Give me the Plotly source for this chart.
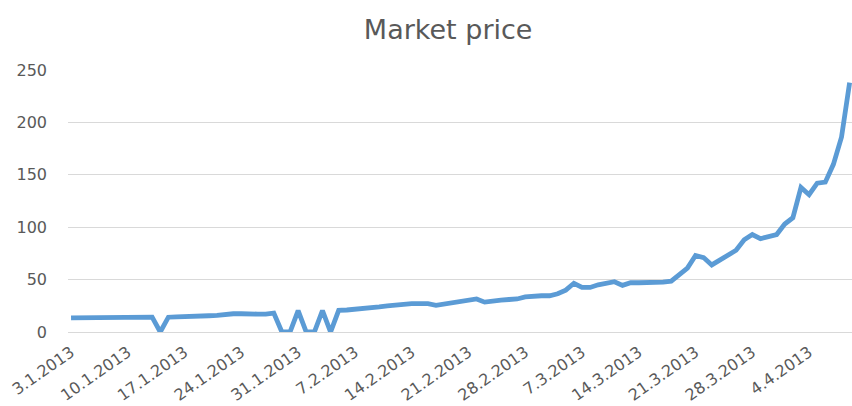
import pandas as pd
import plotly.graph_objects as go

# Daily market price, 3 Jan 2013 - 9 Apr 2013
start_date = "2013-01-03"
prices = [
    13.4, 13.4, 13.4, 13.4, 13.5, 13.8, 13.8, 14.1, 14.2, 14.1, 14.2,
    0,
    14.1, 14.5, 15.0, 15.5, 15.6, 15.5, 15.8, 16.9, 17.4, 17.4, 17.7, 17.1, 17.1, 18.0,
    0, 0, 20.4, 0, 0, 20.5, 0, 20.6,
    21.0, 21.5, 22.5, 23.5, 24.0, 25.0, 26.0, 26.5, 27.0, 27.0, 27.0, 25.5, 26.5, 28.5,
    29.5, 30.0, 31.5, 28.5, 30.0, 30.5,
    31.0, 31.5, 33.5, 34.6, 34.6, 34.6, 36.5, 40.0, 46.5, 42.5, 42.5, 45.0, 46.5, 48.0,
    44.5, 47.0, 47.0, 47.0, 47.0, 47.5, 48.5,
    55, 61, 73, 71, 64, 69, 74, 78, 88, 93, 89, 91, 93, 103, 109, 138, 131, 142, 143,
    160, 186, 238,
]
dates = pd.date_range(start_date, periods=len(prices), freq="D")

# Weekly date ticks
tick_dates = pd.date_range(start_date, periods=14, freq="7D")
tick_labels = [
    "3.1.2013", "10.1.2013", "17.1.2013", "24.1.2013", "31.1.2013", "7.2.2013",
    "14.2.2013", "21.2.2013", "28.2.2013", "7.3.2013", "14.3.2013", "21.3.2013",
    "28.3.2013", "4.4.2013",
]
y_ticks = [0, 50, 100, 150, 200, 250]

text_grey = "#595959"
grid_grey = "#d9d9d9"

fig = go.Figure(
    go.Scatter(
        x=dates,
        y=prices,
        mode="lines",
        line=dict(color="#5b9bd5", width=4.8),
        hoverinfo="x+y",
    )
)

x_start = dates[0] - pd.Timedelta(hours=9)
x_end = dates[0] + pd.Timedelta(hours=int(96.3 * 24))

fig.update_layout(
    width=852,
    height=406,
    margin=dict(l=68, r=0, t=70, b=74),
    paper_bgcolor="white",
    plot_bgcolor="white",
    showlegend=False,
    title=dict(
        text="Market price",
        font=dict(family="DejaVu Sans", size=27, color=text_grey),
        xref="container",
        yref="container",
        x=0.526,
        y=1 - 30 / 406,
        xanchor="center",
        yanchor="middle",
    ),
    font=dict(family="DejaVu Sans", size=16, color=text_grey),
)

fig.update_xaxes(
    type="date",
    range=[x_start, x_end],
    tickvals=tick_dates,
    ticktext=tick_labels,
    tickangle=-35,
    showgrid=False,
    showline=True,
    linecolor=grid_grey,
    linewidth=1,
    ticks="",
    ticklabelstandoff=4,
    automargin=False,
    tickfont=dict(family="DejaVu Sans", size=16, color=text_grey),
)

fig.update_yaxes(
    range=[0, 250],
    tickvals=y_ticks,
    showgrid=True,
    gridcolor=grid_grey,
    gridwidth=1,
    zeroline=False,
    ticks="",
    ticklabelstandoff=20,
    automargin=False,
    tickfont=dict(family="DejaVu Sans", size=16, color=text_grey),
)

fig.write_html("out.html")
